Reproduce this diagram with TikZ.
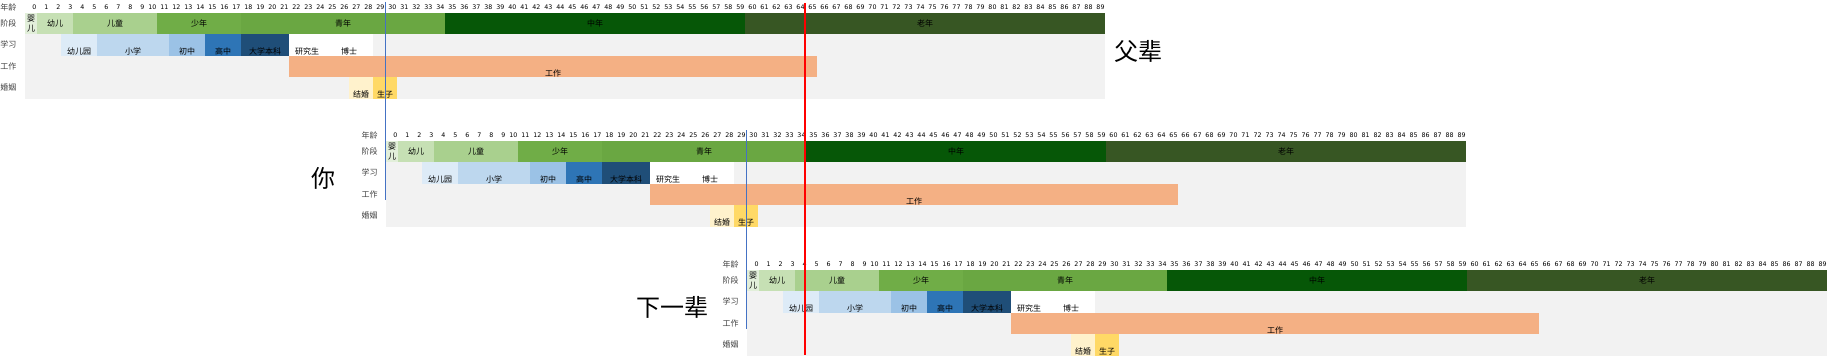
\documentclass[tikz,border=0pt]{standalone}
\usepackage{fontspec}
\setmainfont{Noto Sans CJK SC}
\newfontfamily\numfont{DejaVu Sans}
\usepackage{xcolor}
\usepackage{tikz}
\usetikzlibrary{positioning}

\definecolor{cBaby}{HTML}{E2EFDA}
\definecolor{cToddler}{HTML}{C6E0B4}
\definecolor{cChild}{HTML}{A9D08E}
\definecolor{cTeen}{HTML}{70AD47}
\definecolor{cYouth}{HTML}{6AA742}
\definecolor{cMid}{HTML}{065707}
\definecolor{cOld}{HTML}{375623}
\definecolor{cGrey}{HTML}{F2F2F2}
\definecolor{cKinder}{HTML}{DDEBF7}
\definecolor{cPrimary}{HTML}{BDD7EE}
\definecolor{cJunior}{HTML}{9BC2E6}
\definecolor{cSenior}{HTML}{2E75B6}
\definecolor{cCollege}{HTML}{1F4E78}
\definecolor{cWork}{HTML}{F4B084}
\definecolor{cWed}{HTML}{FFF2CC}
\definecolor{cKid}{HTML}{FFD966}
\definecolor{syncblue}{HTML}{4472C4}

\begin{document}
\begin{tikzpicture}[
  x=1pt, y=-1pt,
  every node/.style={font=\fontsize{8}{10}\selectfont, inner sep=0pt},
  rowlab/.style={text=black!75},
  agenum/.style={font=\numfont\fontsize{6.3}{7}\selectfont, anchor=east},
  stagebox/.style={anchor=north west, minimum height=21.4pt, align=center},
  barbox/.style={anchor=north west, text height=20.4pt, text depth=1pt},
  bigname/.style={font=\fontsize{24}{26}\selectfont},
  sync/.style={draw=syncblue, line width=1pt},
  retire/.style={draw=red, line width=1.4pt}
]
\useasboundingbox (0,0) rectangle (1828,361);

\foreach \gx/\gy/\g in {25/0/fu, 386/128/ni, 747/257/xia} {
\begin{scope}[shift={(\gx,\gy)}]
  % row names
  \node[rowlab] (\g-lage) at (-16.5,7.3) {年龄};
  \node[rowlab] (\g-lstage) at (-16.5,23.4) {阶段};
  \node[rowlab] (\g-lstudy) at (-16.5,44.8) {学习};
  \node[rowlab] (\g-lwork) at (-16.5,66.2) {工作};
  \node[rowlab] (\g-lmarry) at (-16.5,87.6) {婚姻};
  % ages
  \foreach \a in {0,...,89}
    \node[agenum] (\g-n\a) at ({(\a+1)*12-0.3},7.3) {\a};
  % stages
  \node[stagebox, fill=cBaby, minimum width=12pt] (\g-baby) at (0,12.7) {婴\\儿};
  \node[stagebox, fill=cToddler, minimum width=36pt] (\g-toddler) at (12,12.7) {幼儿};
  \node[stagebox, fill=cChild, minimum width=84pt] (\g-child) at (48,12.7) {儿童};
  \node[stagebox, fill=cTeen, minimum width=84pt] (\g-teen) at (132,12.7) {少年};
  \node[stagebox, fill=cYouth, minimum width=204pt] (\g-youth) at (216,12.7) {青年};
  \node[stagebox, fill=cMid, minimum width=300pt] (\g-mid) at (420,12.7) {中年};
  \node[stagebox, fill=cOld, minimum width=360pt] (\g-old) at (720,12.7) {老年};
  % study, work, marriage
  \node[anchor=north west, fill=cGrey, minimum width=1080pt, minimum height=64.2pt] (\g-bg) at (0,34.1) {};
  \node[barbox, fill=cKinder, minimum width=36pt] (\g-kinder) at (36,34.1) {幼儿园};
  \node[barbox, fill=cPrimary, minimum width=72pt] (\g-primary) at (72,34.1) {小学};
  \node[barbox, fill=cJunior, minimum width=36pt] (\g-junior) at (144,34.1) {初中};
  \node[barbox, fill=cSenior, minimum width=36pt] (\g-senior) at (180,34.1) {高中};
  \node[barbox, fill=cCollege, minimum width=48pt] (\g-college) at (216,34.1) {大学本科};
  \node[barbox, fill=white, minimum width=36pt] (\g-master) at (264,34.1) {研究生};
  \node[barbox, fill=white, minimum width=48pt] (\g-phd) at (300,34.1) {博士};
  \node[barbox, fill=cWork, minimum width=528pt] (\g-work) at (264,55.5) {工作};
  \node[barbox, fill=cWed, minimum width=24pt] (\g-wed) at (324,76.9) {结婚};
  \node[barbox, fill=cKid, minimum width=24pt] (\g-kid) at (348,76.9) {生子};
  \coordinate (\g-a30) at (360,2);
  \coordinate (\g-a65) at (780,3);
  \coordinate (\g-in) at (0,72);
  \coordinate (\g-end) at (0,98.3);
\end{scope}
}

\node[bigname] (fubei) at (1138,51) {父辈};
\node[bigname] (you) at (323,178) {你};
\node[bigname] (nextgen) at (672,307.5) {下一辈};

\draw[sync] (fu-a30) -- (fu-a30 |- ni-in);
\draw[sync] (ni-a30) -- (ni-a30 |- xia-in);
\draw[retire] (fu-a65) -- (fu-a65 |- xia-end);
\end{tikzpicture}
\end{document}
